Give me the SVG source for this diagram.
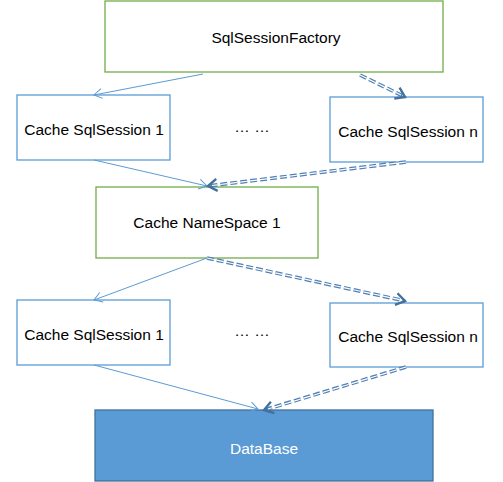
<svg xmlns="http://www.w3.org/2000/svg" width="503" height="482" viewBox="0 0 503 482">
<style>
.g{fill:#fff;stroke:#70AD47;stroke-width:1.3}
.b{fill:#fff;stroke:#5B9BD5;stroke-width:1.3}
.db{fill:#5B9BD5;stroke:#41719C;stroke-width:1.3}
text{font-family:"Liberation Sans",Arial,sans-serif;font-size:15.5px;fill:#000;text-anchor:middle}
.w{fill:#fff}
.s{fill:none;stroke:#5B9BD5;stroke-width:1}
.d1{fill:none;stroke:#4F7FB5;stroke-width:3.6;stroke-dasharray:7 3}
.d2{fill:none;stroke:#fff;stroke-width:1.2;stroke-dasharray:7 3}
</style>
<defs>
<marker id="a1" markerUnits="userSpaceOnUse" markerWidth="16" markerHeight="16" refX="10" refY="6" orient="auto" overflow="visible">
<path d="M2,1 L10,6 L2,11" fill="none" stroke="#5B9BD5" stroke-width="1"/>
</marker>
<marker id="a2" markerUnits="userSpaceOnUse" markerWidth="16" markerHeight="16" refX="11" refY="7" orient="auto" overflow="visible">
<path d="M2,1 L11,7 L2,13" fill="none" stroke="#41719C" stroke-width="2.4"/>
</marker>
</defs>
<g id="n1"><rect class="g" x="105" y="1" width="338" height="71"/><text x="276" y="43">SqlSessionFactory</text></g>
<g id="n2"><rect class="b" x="17" y="95" width="153" height="65"/><text x="94" y="135">Cache SqlSession 1</text></g>
<g id="n3"><rect class="b" x="330" y="97" width="153" height="65"/><text x="408" y="137">Cache SqlSession n</text></g>
<g id="e1"><text x="252" y="132">… …</text></g>
<g id="n4"><rect class="g" x="96" y="187" width="222" height="71"/><text x="207" y="228">Cache NameSpace 1</text></g>
<g id="n5"><rect class="b" x="17" y="300" width="153" height="65"/><text x="94" y="340">Cache SqlSession 1</text></g>
<g id="n6"><rect class="b" x="330" y="303" width="153" height="64"/><text x="408" y="342">Cache SqlSession n</text></g>
<g id="e2"><text x="252" y="336">… …</text></g>
<g id="n7"><rect class="db" x="95" y="410" width="338" height="71"/><text class="w" x="264" y="454">DataBase</text></g>
<g id="connectors">
<path class="s" d="M203,74 L94,95" marker-end="url(#a1)"/>
<path class="s" d="M94,160 L207,186" marker-end="url(#a1)"/>
<path class="s" d="M207,258 L94,300" marker-end="url(#a1)"/>
<path class="s" d="M94,365 L258,409" marker-end="url(#a1)"/>
<path class="d1" d="M360,75 L405,97" marker-end="url(#a2)"/>
<path class="d2" d="M360,75 L401,95"/>
<path class="d1" d="M406,162 L208,186" marker-end="url(#a2)"/>
<path class="d2" d="M406,162 L212,185.5"/>
<path class="d1" d="M207,258 L405,301" marker-end="url(#a2)"/>
<path class="d2" d="M207,258 L401,300"/>
<path class="d1" d="M406,367 L264,410" marker-end="url(#a2)"/>
<path class="d2" d="M406,367 L268,409"/>
</g>
</svg>
